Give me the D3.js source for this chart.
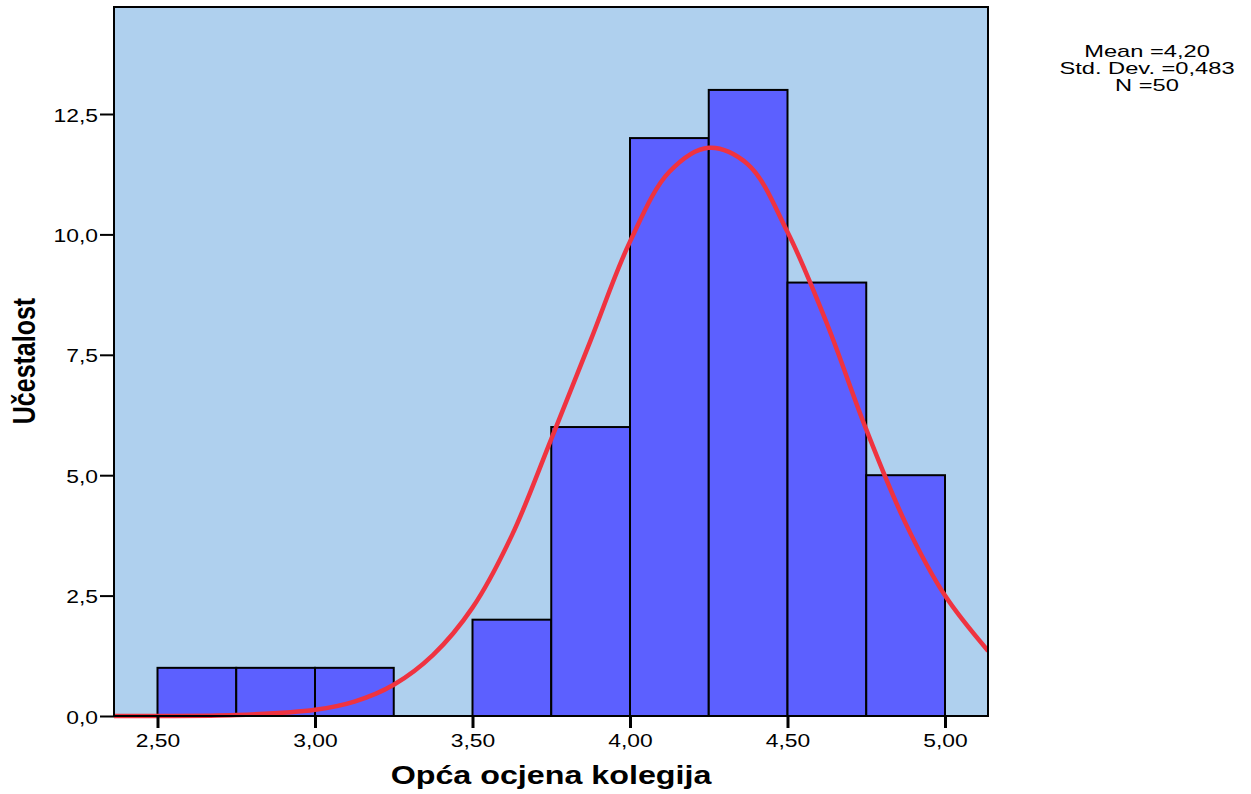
<!DOCTYPE html>
<html>
<head>
<meta charset="utf-8">
<script src="https://cdn.jsdelivr.net/npm/d3@7/dist/d3.min.js"></script>
<style>
  html, body { margin: 0; padding: 0; background: #ffffff; }
  svg { display: block; }
  text { font-family: "Liberation Sans", Arial, sans-serif; fill: #000; }
</style>
</head>
<body>
<svg id="chart" width="1251" height="794"></svg>
<script>
// ---- data ----
const binStarts = [2.50, 2.75, 3.00, 3.25, 3.50, 3.75, 4.00, 4.25, 4.50, 4.75];
const binWidth = 0.25;
const counts = [1, 1, 1, 0, 2, 6, 12, 13, 9, 5];
const curveX = [2.36, 2.50, 2.75, 3.00, 3.125, 3.25, 3.375, 3.50, 3.625, 3.75, 3.875, 4.00, 4.125, 4.25, 4.375, 4.50, 4.625, 4.75, 4.875, 5.00, 5.137];
const curveY = [0.0, 0.0, 0.02, 0.13, 0.3, 0.65, 1.27, 2.25, 3.75, 5.75, 7.8, 9.85, 11.3, 11.8, 11.45, 10.05, 8.15, 5.95, 4.0, 2.5, 1.35];
const xTicks = [2.5, 3.0, 3.5, 4.0, 4.5, 5.0];
const yTicks = [0, 2.5, 5, 7.5, 10, 12.5];
const statsLines = ["Mean =4,20", "Std. Dev. =0,483", "N =50"];
const xTitle = "Opća ocjena kolegija";
const yTitle = "Učestalost";

// ---- layout ----
const svg = d3.select("#chart");
const L = 114, R = 988, T = 7, B = 716;
const SX = 1.27; // horizontal text stretch of the original

const x = d3.scaleLinear().domain([2.5, 5.0]).range([157.5, 945]);
const y = d3.scaleLinear().domain([0, 12.5]).range([B, 114]);

// background
svg.append("rect").attr("x", L).attr("y", T).attr("width", R - L).attr("height", B - T)
  .attr("fill", "#afd0ee");

// bars
svg.append("g").selectAll("rect").data(binStarts.map((s, i) => ({s, c: counts[i]})).filter(d => d.c > 0))
  .join("rect")
  .attr("x", d => x(d.s))
  .attr("y", d => y(d.c))
  .attr("width", d => x(d.s + binWidth) - x(d.s))
  .attr("height", d => y(0) - y(d.c))
  .attr("fill", "#5c60ff")
  .attr("stroke", "#000")
  .attr("stroke-width", 2);

// normal curve
const pts = curveX.map((v, i) => [v, curveY[i]]);
svg.append("clipPath").attr("id", "plotclip").append("rect")
  .attr("x", L).attr("y", T).attr("width", R - L).attr("height", B - T + 3);
svg.append("path")
  .attr("clip-path", "url(#plotclip)")
  .attr("d", d3.line().x(d => x(d[0])).y(d => y(d[1])).curve(d3.curveCatmullRom.alpha(0.5))(pts))
  .attr("fill", "none")
  .attr("stroke", "#ef3340")
  .attr("stroke-width", 4.5);

// frame
svg.append("rect").attr("x", L).attr("y", T).attr("width", R - L).attr("height", B - T)
  .attr("fill", "none").attr("stroke", "#000").attr("stroke-width", 2);

// y axis
const yAxis = d3.axisLeft(y).tickValues(yTicks).tickSize(14).tickPadding(0)
  .tickFormat(v => v.toFixed(1).replace(".", ","));
const gy = svg.append("g").attr("transform", `translate(${L},0)`).call(yAxis);
gy.select(".domain").remove();
gy.selectAll(".tick line").attr("stroke", "#000").attr("stroke-width", 2);
gy.selectAll(".tick text")
  .attr("x", null).attr("dy", null)
  .attr("font-size", 18)
  .attr("font-family", "Liberation Sans, Arial, sans-serif")
  .attr("text-anchor", "end")
  .attr("transform", `translate(-16,7) scale(${SX},1)`);

// x axis
const xAxis = d3.axisBottom(x).tickValues(xTicks).tickSize(12).tickPadding(0)
  .tickFormat(v => v.toFixed(2).replace(".", ","));
const gx = svg.append("g").attr("transform", `translate(0,${B})`).call(xAxis);
gx.select(".domain").remove();
gx.selectAll(".tick line").attr("stroke", "#000").attr("stroke-width", 3);
gx.selectAll(".tick text")
  .attr("y", null).attr("dy", null)
  .attr("font-size", 18)
  .attr("font-family", "Liberation Sans, Arial, sans-serif")
  .attr("text-anchor", "middle")
  .attr("transform", `translate(0,31) scale(${SX},1)`);

// axis titles
svg.append("text")
  .attr("transform", `translate(551,784) scale(1.29,1)`)
  .attr("text-anchor", "middle")
  .attr("font-size", 25).attr("font-weight", "bold")
  .text(xTitle);

svg.append("text")
  .attr("transform", `translate(35,361) rotate(-90) scale(1,${SX})`)
  .attr("text-anchor", "middle")
  .attr("font-size", 25).attr("font-weight", "bold")
  .text(yTitle);

// stats box text
svg.append("g").selectAll("text").data(statsLines).join("text")
  .attr("transform", (d, i) => `translate(1147,${57 + i * 17}) scale(1.48,1)`)
  .attr("text-anchor", "middle")
  .attr("font-size", 16)
  .text(d => d);
</script>
</body>
</html>
